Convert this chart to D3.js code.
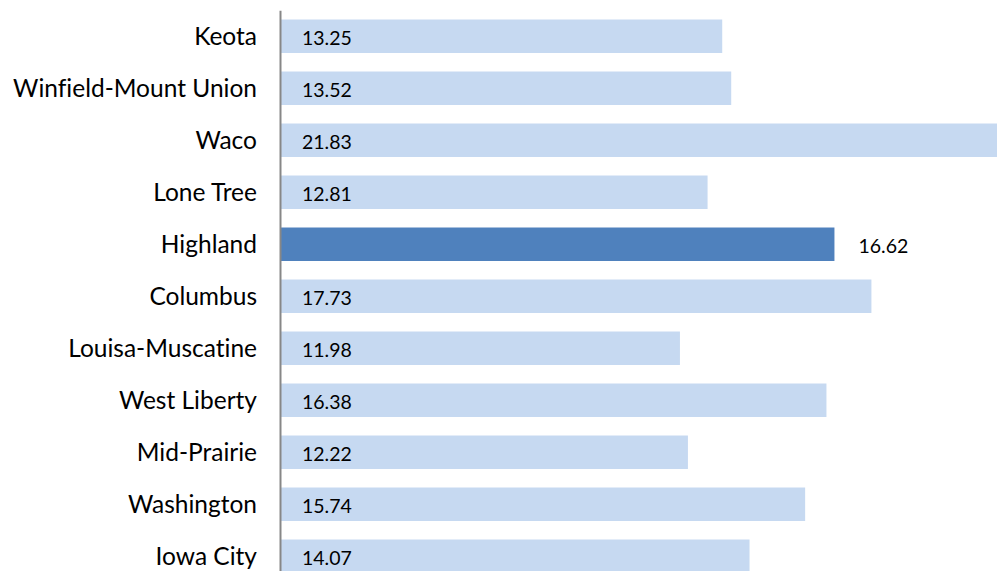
<!DOCTYPE html>
<html>
<head>
<meta charset="utf-8">
<script src="https://cdn.jsdelivr.net/npm/d3@7"></script>
<style>
  html, body { margin: 0; padding: 0; background: #fff; overflow: hidden; }
  svg { display: block; }
  text { font-variant-ligatures: none; }
</style>
</head>
<body>
<div class="chart"></div>
<script>
// data
var districts = ["Keota", "Winfield-Mount Union", "Waco", "Lone Tree", "Highland", "Columbus",
  "Louisa-Muscatine", "West Liberty", "Mid-Prairie", "Washington", "Iowa City"];
var values = [13.25, 13.52, 21.83, 12.81, 16.62, 17.73, 11.98, 16.38, 12.22, 15.74, 14.07];
var highlighted = ["Highland"];

var svgWidth = 997;
var svgHeight = 571;
var axisX = 281;

var rows = districts.map(function(d, i) { return {name: d, value: values[i]}; });

var svg = d3.select(".chart")
  .append("svg")
  .attr("width", svgWidth)
  .attr("height", svgHeight);

var x = d3.scaleLinear().domain([0, 22]).range([axisX, axisX + 22 * 33.3]);
var y = d3.scaleBand()
  .domain(districts)
  .range([10.25, 582.25])
  .paddingInner(0.356)
  .paddingOuter(0.178);

var font = "Lato, 'Open Sans', sans-serif";

// bars
svg.append("g").selectAll("rect")
  .data(rows)
  .enter()
  .append("rect")
  .attr("x", x(0))
  .attr("y", function(d) { return y(d.name); })
  .attr("width", function(d) { return x(d.value) - x(0); })
  .attr("height", y.bandwidth())
  .attr("fill", function(d) { return highlighted.indexOf(d.name) >= 0 ? "#4F81BD" : "#C6D9F1"; });

// value labels: inside base, highlighted one outside end
svg.append("g").selectAll("text")
  .data(rows)
  .enter()
  .append("text")
  .attr("x", function(d) { return highlighted.indexOf(d.name) >= 0 ? x(d.value) + 24 : x(0) + 21; })
  .attr("y", function(d) { return y(d.name) + y.bandwidth() / 2 + 1; })
  .attr("dominant-baseline", "central")
  .style("font-family", font)
  .style("font-size", "19.5px")
  .attr("fill", "#000")
  .text(function(d) { return d.value.toFixed(2); });

// category axis
var leftAxis = d3.axisLeft(y).tickSize(0).tickPadding(23);
var gAxis = svg.append("g")
  .attr("transform", "translate(" + (axisX - 1) + ",0)")
  .call(leftAxis);
gAxis.select(".domain").attr("stroke", "#878787").attr("stroke-width", 2);
gAxis.selectAll(".tick text")
  .style("font-family", font)
  .style("font-size", "24.5px")
  .attr("fill", "#000")
  .attr("dy", "0.35em");
</script>
</body>
</html>
